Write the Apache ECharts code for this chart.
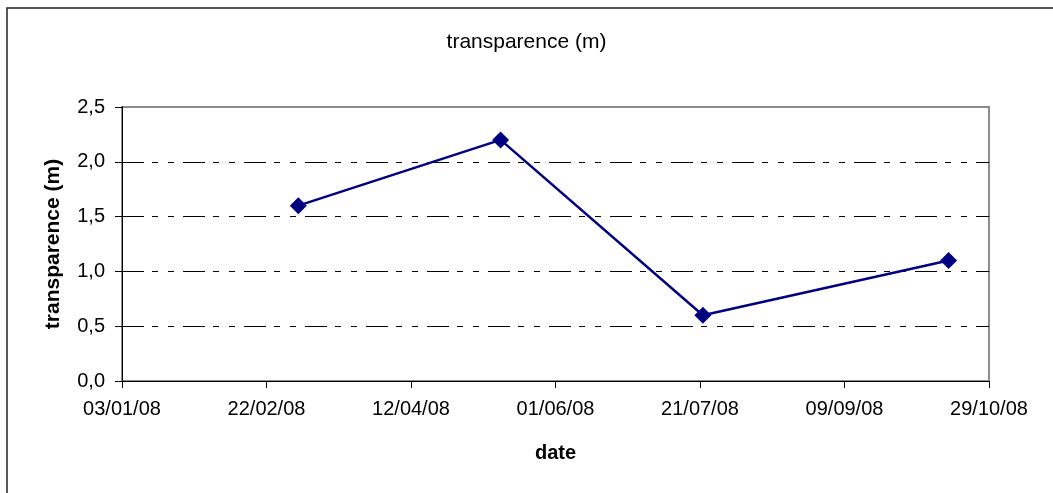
<!DOCTYPE html>
<html>
<head>
<meta charset="utf-8">
<script src="https://cdn.jsdelivr.net/npm/echarts@6/dist/echarts.min.js"></script>
<style>
  html, body { margin: 0; padding: 0; background: #fff; }
  #main { width: 1053px; height: 493px; }
</style>
</head>
<body>
<div id="main"></div>
<script>
// mesures de transparence (m)
var dates = ['2008-03-04', '2008-05-13', '2008-07-22', '2008-10-15'];
var values = [1.6, 2.2, 0.6, 1.1];
var xMinDate = '2008-01-03';
var xMaxDate = '2008-10-29';
var xStepDays = 50;
var yTicks = [0, 0.5, 1, 1.5, 2, 2.5];

var DAY = 86400000;
function ts(s) { return Date.parse(s + 'T00:00:00Z'); }
function pad(n) { return (n < 10 ? '0' : '') + n; }
function fmtDate(v) {
    var d = new Date(v);
    return pad(d.getUTCDate()) + '/' + pad(d.getUTCMonth() + 1) + '/' + pad(d.getUTCFullYear() % 100);
}

var myChart = echarts.init(document.getElementById('main'));
var font = 'Liberation Sans, Arial, sans-serif';

var options = {
    backgroundColor: '#fff',
    animation: false,
    title: {
        text: 'transparence (m)',
        left: 'center',
        top: 27,
        textStyle: { fontFamily: font, fontSize: 21, fontWeight: 'normal', color: '#000' }
    },
    graphic: [{
        type: 'rect',
        shape: { x: 7, y: 8, width: 1100, height: 600 },
        style: { fill: 'none', stroke: '#222', lineWidth: 1.5 },
        silent: true
    }],
    grid: {
        left: 122, top: 107, right: 64, bottom: 112,
        show: true, borderColor: '#8c8c8c', borderWidth: 2, backgroundColor: '#fff'
    },
    xAxis: {
        type: 'value',
        min: ts(xMinDate),
        max: ts(xMaxDate),
        interval: xStepDays * DAY,
        name: 'date',
        nameLocation: 'middle',
        nameGap: 62,
        nameTextStyle: { fontFamily: font, fontSize: 20, fontWeight: 'bold', color: '#000' },
        axisLine: { lineStyle: { color: '#000', width: 1 } },
        axisTick: { show: true, inside: false, length: 7, lineStyle: { color: '#000' } },
        axisLabel: { fontFamily: font, fontSize: 20, color: '#000', margin: 18, formatter: fmtDate },
        splitLine: { show: false }
    },
    yAxis: {
        type: 'value',
        min: yTicks[0],
        max: yTicks[yTicks.length - 1],
        interval: 0.5,
        name: 'transparence (m)',
        nameLocation: 'middle',
        nameGap: 58,
        nameTextStyle: { fontFamily: font, fontSize: 21, fontWeight: 'bold', color: '#000' },
        axisLine: { show: true, lineStyle: { color: '#000', width: 1 } },
        axisTick: { show: true, inside: false, length: 7, lineStyle: { color: '#000' } },
        axisLabel: {
            fontFamily: font, fontSize: 20, color: '#000', margin: 17,
            formatter: function (v) { return v.toFixed(1).replace('.', ','); }
        },
        splitLine: {
            show: true,
            showMinLine: false,
            showMaxLine: false,
            lineStyle: { color: '#000', width: 1, type: [22, 8, 6, 10, 6, 9] }
        }
    },
    series: [{
        name: 'transparence (m)',
        type: 'line',
        data: dates.map(function (d, i) { return [ts(d), values[i]]; }),
        symbol: 'diamond',
        symbolSize: 17,
        lineStyle: { color: '#000080', width: 2.5 },
        itemStyle: { color: '#000080' }
    }]
};

myChart.setOption(options, true);
</script>
</body>
</html>
